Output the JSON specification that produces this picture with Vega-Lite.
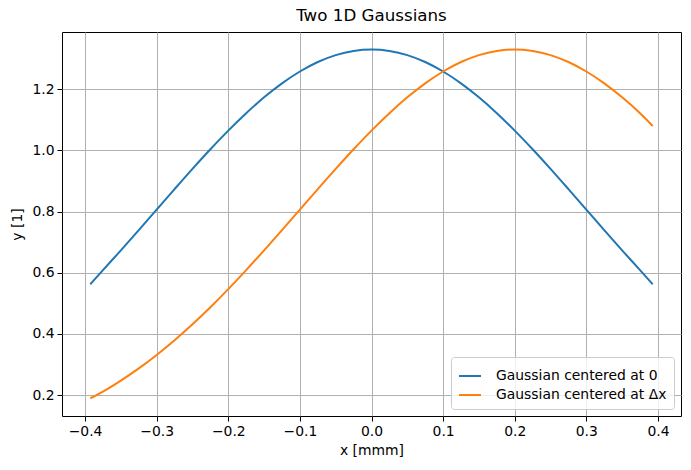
{
  "$schema": "https://vega.github.io/schema/vega-lite/v6.json",
  "width": 619,
  "height": 384,
  "autosize": {"type": "none"},
  "padding": {"left": 62, "top": 32, "right": 10, "bottom": 54},
  "background": "white",
  "title": {"text": "Two 1D Gaussians", "fontSize": 16.7, "fontWeight": "normal", "font": "DejaVu Sans", "color": "black", "offset": 7, "anchor": "middle"},
  "config": {
    "view": {"stroke": "black", "strokeWidth": 1},
    "axis": {"labelFont": "DejaVu Sans", "titleFont": "DejaVu Sans", "labelFontSize": 13.9, "titleFontSize": 13.9, "titleFontWeight": "normal", "labelColor": "black", "titleColor": "black", "tickColor": "black", "domain": false, "tickSize": 5, "gridColor": "#b0b0b0", "gridWidth": 1, "tickWidth": 1}
  },
  "data": {"values": [
    {"x": -0.3927, "y": 0.5625, "s": "Gaussian centered at 0"},
    {"x": -0.375, "y": 0.6088, "s": "Gaussian centered at 0"},
    {"x": -0.35, "y": 0.6733, "s": "Gaussian centered at 0"},
    {"x": -0.325, "y": 0.7395, "s": "Gaussian centered at 0"},
    {"x": -0.3, "y": 0.8066, "s": "Gaussian centered at 0"},
    {"x": -0.275, "y": 0.8736, "s": "Gaussian centered at 0"},
    {"x": -0.25, "y": 0.9397, "s": "Gaussian centered at 0"},
    {"x": -0.225, "y": 1.0038, "s": "Gaussian centered at 0"},
    {"x": -0.2, "y": 1.0648, "s": "Gaussian centered at 0"},
    {"x": -0.175, "y": 1.1217, "s": "Gaussian centered at 0"},
    {"x": -0.15, "y": 1.1735, "s": "Gaussian centered at 0"},
    {"x": -0.125, "y": 1.2192, "s": "Gaussian centered at 0"},
    {"x": -0.1, "y": 1.2579, "s": "Gaussian centered at 0"},
    {"x": -0.075, "y": 1.2889, "s": "Gaussian centered at 0"},
    {"x": -0.05, "y": 1.3115, "s": "Gaussian centered at 0"},
    {"x": -0.025, "y": 1.3252, "s": "Gaussian centered at 0"},
    {"x": 0, "y": 1.3298, "s": "Gaussian centered at 0"},
    {"x": 0.025, "y": 1.3252, "s": "Gaussian centered at 0"},
    {"x": 0.05, "y": 1.3115, "s": "Gaussian centered at 0"},
    {"x": 0.075, "y": 1.2889, "s": "Gaussian centered at 0"},
    {"x": 0.1, "y": 1.2579, "s": "Gaussian centered at 0"},
    {"x": 0.125, "y": 1.2192, "s": "Gaussian centered at 0"},
    {"x": 0.15, "y": 1.1735, "s": "Gaussian centered at 0"},
    {"x": 0.175, "y": 1.1217, "s": "Gaussian centered at 0"},
    {"x": 0.2, "y": 1.0648, "s": "Gaussian centered at 0"},
    {"x": 0.225, "y": 1.0038, "s": "Gaussian centered at 0"},
    {"x": 0.25, "y": 0.9397, "s": "Gaussian centered at 0"},
    {"x": 0.275, "y": 0.8736, "s": "Gaussian centered at 0"},
    {"x": 0.3, "y": 0.8066, "s": "Gaussian centered at 0"},
    {"x": 0.325, "y": 0.7395, "s": "Gaussian centered at 0"},
    {"x": 0.35, "y": 0.6733, "s": "Gaussian centered at 0"},
    {"x": 0.375, "y": 0.6088, "s": "Gaussian centered at 0"},
    {"x": 0.3927, "y": 0.5625, "s": "Gaussian centered at 0"},
    {"x": -0.3927, "y": 0.1900, "s": "Gaussian centered at Δx"},
    {"x": -0.375, "y": 0.2119, "s": "Gaussian centered at Δx"},
    {"x": -0.35, "y": 0.2477, "s": "Gaussian centered at Δx"},
    {"x": -0.325, "y": 0.2876, "s": "Gaussian centered at Δx"},
    {"x": -0.3, "y": 0.3316, "s": "Gaussian centered at Δx"},
    {"x": -0.275, "y": 0.3797, "s": "Gaussian centered at Δx"},
    {"x": -0.25, "y": 0.4317, "s": "Gaussian centered at Δx"},
    {"x": -0.225, "y": 0.4875, "s": "Gaussian centered at Δx"},
    {"x": -0.2, "y": 0.5467, "s": "Gaussian centered at Δx"},
    {"x": -0.175, "y": 0.6088, "s": "Gaussian centered at Δx"},
    {"x": -0.15, "y": 0.6733, "s": "Gaussian centered at Δx"},
    {"x": -0.125, "y": 0.7395, "s": "Gaussian centered at Δx"},
    {"x": -0.1, "y": 0.8066, "s": "Gaussian centered at Δx"},
    {"x": -0.075, "y": 0.8736, "s": "Gaussian centered at Δx"},
    {"x": -0.05, "y": 0.9397, "s": "Gaussian centered at Δx"},
    {"x": -0.025, "y": 1.0038, "s": "Gaussian centered at Δx"},
    {"x": 0, "y": 1.0648, "s": "Gaussian centered at Δx"},
    {"x": 0.025, "y": 1.1217, "s": "Gaussian centered at Δx"},
    {"x": 0.05, "y": 1.1735, "s": "Gaussian centered at Δx"},
    {"x": 0.075, "y": 1.2192, "s": "Gaussian centered at Δx"},
    {"x": 0.1, "y": 1.2579, "s": "Gaussian centered at Δx"},
    {"x": 0.125, "y": 1.2889, "s": "Gaussian centered at Δx"},
    {"x": 0.15, "y": 1.3115, "s": "Gaussian centered at Δx"},
    {"x": 0.175, "y": 1.3252, "s": "Gaussian centered at Δx"},
    {"x": 0.2, "y": 1.3298, "s": "Gaussian centered at Δx"},
    {"x": 0.225, "y": 1.3252, "s": "Gaussian centered at Δx"},
    {"x": 0.25, "y": 1.3115, "s": "Gaussian centered at Δx"},
    {"x": 0.275, "y": 1.2889, "s": "Gaussian centered at Δx"},
    {"x": 0.3, "y": 1.2579, "s": "Gaussian centered at Δx"},
    {"x": 0.325, "y": 1.2192, "s": "Gaussian centered at Δx"},
    {"x": 0.35, "y": 1.1735, "s": "Gaussian centered at Δx"},
    {"x": 0.375, "y": 1.1217, "s": "Gaussian centered at Δx"},
    {"x": 0.3927, "y": 1.0800, "s": "Gaussian centered at Δx"}
  ]},
  "mark": {"type": "line", "strokeWidth": 2, "interpolate": "monotone"},
  "encoding": {
    "x": {"field": "x", "type": "quantitative", "scale": {"domain": [-0.4322, 0.4322], "nice": false, "zero": false},
      "axis": {"values": [-0.4, -0.3, -0.2, -0.1, 0, 0.1, 0.2, 0.3, 0.4], "format": ".1f", "title": "x [mmm]", "labelPadding": 3, "titlePadding": 6}},
    "y": {"field": "y", "type": "quantitative", "scale": {"domain": [0.132, 1.387], "nice": false, "zero": false},
      "axis": {"values": [0.2, 0.4, 0.6, 0.8, 1.0, 1.2], "format": ".1f", "title": "y [1]", "labelPadding": 3, "titlePadding": 7}},
    "color": {"field": "s", "type": "nominal",
      "scale": {"domain": ["Gaussian centered at 0", "Gaussian centered at Δx"], "range": ["#1f77b4", "#ff7f0e"]},
      "legend": {"title": null, "orient": "bottom-right", "offset": 7, "labelFont": "DejaVu Sans", "labelFontSize": 13.9, "labelLimit": 400, "labelColor": "black", "symbolType": "stroke", "symbolSize": 484, "symbolStrokeWidth": 2, "fillColor": "rgba(255,255,255,0.8)", "strokeColor": "#cccccc", "cornerRadius": 3, "padding": 7, "rowPadding": 0, "labelOffset": 14}}
  }
}
